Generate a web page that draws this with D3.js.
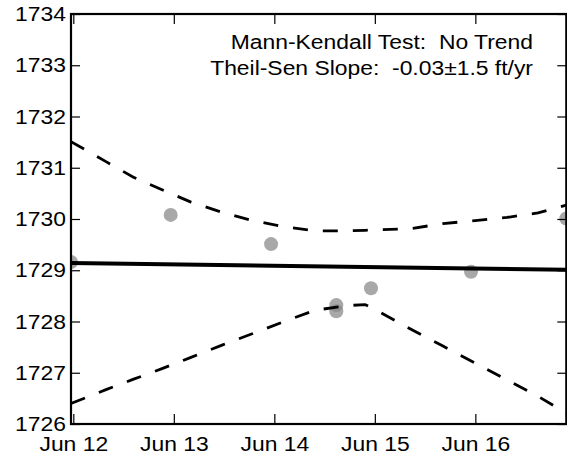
<!DOCTYPE html>
<html><head><meta charset="utf-8">
<script src="https://cdn.jsdelivr.net/npm/d3@7"></script>
<style>body{margin:0;background:#fff}svg{display:block}text{font-family:"Liberation Sans",Arial,sans-serif;fill:#000;white-space:pre}</style>
</head><body>
<script>
// Observations (time, water level ft)
const obsTimes = ["2015-06-11T23:27","2015-06-12T23:15","2015-06-13T23:13","2015-06-14T14:48","2015-06-14T14:48","2015-06-14T23:05","2015-06-15T22:58","2015-06-16T21:43"];
const obsValues = [1729.16,1730.08,1729.51,1728.32,1728.20,1728.65,1728.97,1730.01];
// Theil-Sen trend line endpoints
const trendTimes = ["2015-06-11T23:27","2015-06-16T21:43"];
const trendValues = [1729.14,1729.01];
// Confidence band
const bandTimes = ["2015-06-11T23:27","2015-06-12T07:48","2015-06-12T14:15","2015-06-12T21:11","2015-06-13T04:06","2015-06-13T11:31","2015-06-13T18:42","2015-06-14T02:20","2015-06-14T09:45","2015-06-14T17:23","2015-06-14T21:40","2015-06-15T01:15","2015-06-15T08:24","2015-06-15T16:16","2015-06-15T23:56","2015-06-16T07:34","2015-06-16T14:59","2015-06-16T21:43"];
const bandUpper = [1731.51,1731.12,1730.82,1730.57,1730.33,1730.13,1729.97,1729.85,1729.77,1729.77,1729.78,1729.79,1729.81,1729.91,1729.97,1730.03,1730.12,1730.27];
const bandLower = [1726.40,1726.67,1726.87,1727.08,1727.30,1727.54,1727.76,1728.00,1728.22,1728.31,1728.33,1728.18,1727.86,1727.52,1727.19,1726.86,1726.54,1726.21];
// Axis ticks
const yTicks = [1726,1727,1728,1729,1730,1731,1732,1733,1734];
const xTickDates = ["2015-06-12","2015-06-13","2015-06-14","2015-06-15","2015-06-16"];
const xTickLabels = ["Jun 12","Jun 13","Jun 14","Jun 15","Jun 16"];
const annotation = ["Mann-Kendall Test:  No Trend","Theil-Sen Slope:  -0.03\u00b11.5 ft/yr"];

const W=567,H=459;
const L=71,R=566.3,T=14,B=424;
const SX=1.09, FS=21;
const parse = s => new Date(s);
const svg = d3.select("body").append("svg").attr("width",W).attr("height",H);
const x = d3.scaleTime().domain(d3.extent(obsTimes.map(parse))).range([L,R]);
const y = d3.scaleLinear().domain([1726,1734]).range([B,T]);

svg.append("clipPath").attr("id","clip").append("rect").attr("x",L).attr("y",T).attr("width",R-L).attr("height",B-T);
const g = svg.append("g").attr("clip-path","url(#clip)");

// points
g.selectAll("circle").data(obsValues).join("circle")
  .attr("cx",(d,i)=>x(parse(obsTimes[i]))).attr("cy",d=>y(d)).attr("r",7)
  .attr("fill","#878787").attr("fill-opacity",0.72);

const line = d3.line().x(d=>x(d[0])).y(d=>y(d[1]));
// band
[bandUpper,bandLower].forEach(arr=>{
  g.append("path").datum(bandTimes.map((t,i)=>[parse(t),arr[i]]))
   .attr("d",line).attr("fill","none").attr("stroke","#000").attr("stroke-width",2.8)
   .attr("stroke-dasharray","15,15");
});
// trend
g.append("path").datum(trendTimes.map((t,i)=>[parse(t),trendValues[i]]))
  .attr("d",line).attr("fill","none").attr("stroke","#000").attr("stroke-width",4);

// axes (ticks inward on all sides)
const xt = xTickDates.map(parse);
svg.append("g").attr("transform",`translate(0,${B})`)
  .call(d3.axisBottom(x).tickValues(xt).tickSize(-10).tickPadding(12).tickFormat((d,i)=>xTickLabels[i]))
  .call(a=>{a.select(".domain").remove();a.selectAll("text").attr("font-size",FS).attr("font-family",null).attr("dy","0.71em").attr("transform",`scale(${SX},1)`);});
svg.append("g").attr("transform",`translate(0,${T})`)
  .call(d3.axisTop(x).tickValues(xt).tickSize(-10).tickFormat(""))
  .call(a=>a.select(".domain").remove());
svg.append("g").attr("transform",`translate(${L},0)`)
  .call(d3.axisLeft(y).tickValues(yTicks).tickSize(-9).tickPadding(5).tickFormat(d3.format("d")))
  .call(a=>{a.select(".domain").remove();a.selectAll("text").attr("font-size",FS).attr("font-family",null)
     .attr("x",-5/SX).attr("transform",`scale(${SX},1)`);});
svg.append("g").attr("transform",`translate(${R},0)`)
  .call(d3.axisRight(y).tickValues(yTicks).tickSize(-9).tickFormat(""))
  .call(a=>a.select(".domain").remove());
svg.selectAll(".tick line").attr("stroke","#000").attr("stroke-width",1.2);

// frame
svg.append("rect").attr("x",L).attr("y",T).attr("width",R-L).attr("height",B-T)
  .attr("fill","none").attr("stroke","#000").attr("stroke-width",2.2);

// annotation
svg.selectAll("text.ann").data(annotation).join("text").attr("class","ann")
  .attr("transform",(d,i)=>`translate(533,${49+i*26}) scale(${SX},1)`)
  .attr("text-anchor","end").attr("font-size",FS).text(d=>d);
</script>
</body></html>
